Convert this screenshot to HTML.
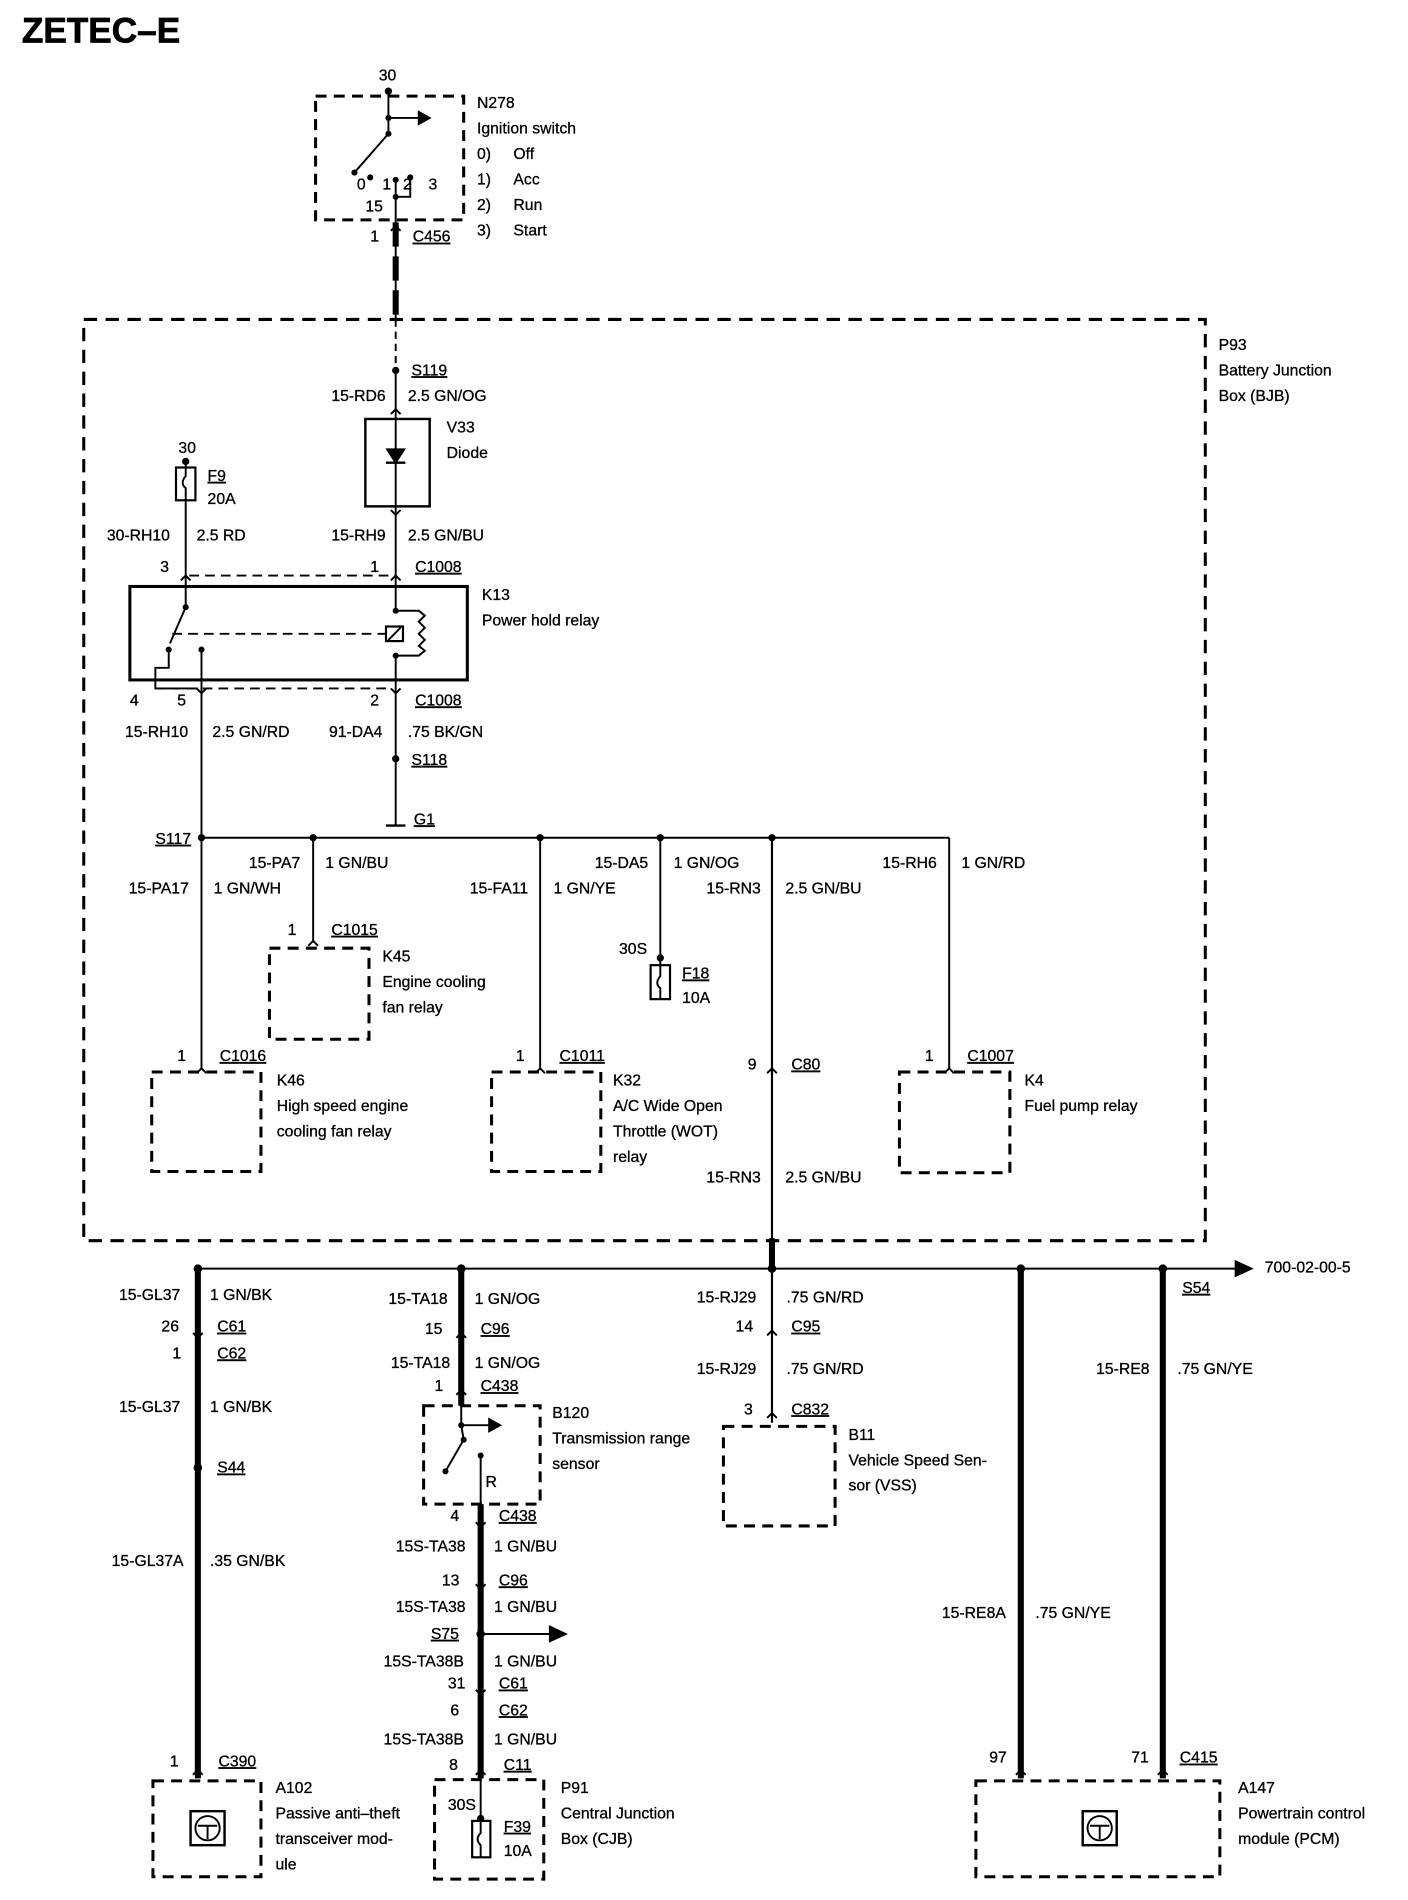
<!DOCTYPE html>
<html><head><meta charset="utf-8"><style>
html,body{margin:0;padding:0;background:#fff;}
svg{display:block}
text{font-family:"Liberation Sans",sans-serif;font-size:13px;fill:#000;stroke:#000;stroke-width:0.25px;}
.u{text-decoration:underline}
</style></head><body>
<svg width="1408" height="1900" viewBox="0 0 1160 1565" xmlns="http://www.w3.org/2000/svg">
<g stroke="#000" fill="none" stroke-width="1.6">
<rect x="260" y="79" width="122" height="102" stroke-width="2.5" stroke-dasharray="9,6"/>
<line x1="320" y1="72" x2="320" y2="110"/>
<line x1="320" y1="97" x2="345" y2="97"/>
<polygon points="345,92 354,97 345,102" fill="#000"/>
<line x1="320" y1="110" x2="292" y2="142"/>
<line x1="326" y1="148" x2="326" y2="263"/>
<polyline points="326,162 338,162 338,146"/>
<line x1="326" y1="183" x2="326" y2="263" stroke-width="5" stroke-dasharray="20,8"/>
<line x1="326" y1="263" x2="326" y2="305" stroke-dasharray="6,4"/>
<rect x="69" y="263" width="924" height="759" stroke-width="2.5" stroke-dasharray="11,7"/>
<line x1="326" y1="305" x2="326" y2="478"/>
<rect x="301" y="345" width="53" height="72" stroke-width="2"/>
<polygon points="319,370 333,370 326,381" fill="#000"/>
<line x1="318" y1="381" x2="334" y2="381" stroke-width="2"/>
<rect x="145" y="385" width="16" height="27" stroke-width="1.8"/>
<path d="M153,380 V392 Q148,398 153,402 V412"/>
<line x1="153" y1="412" x2="153" y2="500"/>
<line x1="156" y1="474" x2="322" y2="474" stroke-dasharray="8,5"/>
<rect x="107" y="483" width="278" height="77" stroke-width="2.5"/>
<line x1="153" y1="500" x2="140" y2="530"/>
<line x1="142" y1="522" x2="318" y2="522" stroke-dasharray="8,5"/>
<rect x="318" y="516" width="14" height="12" stroke-width="1.8"/>
<line x1="320" y1="527" x2="330" y2="517"/>
<line x1="326" y1="478" x2="326" y2="503"/>
<line x1="326" y1="540" x2="326" y2="680"/>
<polyline points="326,503 345,503 350,507 345,512 350,517 345,522 350,527 345,532 350,536 345,540 326,540"/>
<polyline points="139,535 139,550 128,550 128,567 163,567" />
<line x1="128" y1="567" x2="322" y2="567" stroke-dasharray="8,5"/>
<line x1="166" y1="535" x2="166" y2="690"/>
<line x1="318" y1="680" x2="334" y2="680" stroke-width="2"/>
<line x1="166" y1="690" x2="782" y2="690"/>
<line x1="166" y1="690" x2="166" y2="880"/>
<line x1="258" y1="690" x2="258" y2="775"/>
<line x1="445" y1="690" x2="445" y2="880"/>
<line x1="544" y1="690" x2="544" y2="795"/>
<line x1="782" y1="690" x2="782" y2="880"/>
<line x1="636" y1="690" x2="636" y2="1045" stroke-width="1.8"/>
<rect x="222" y="781" width="82" height="75" stroke-width="2.5" stroke-dasharray="9,6"/>
<rect x="536" y="795" width="16" height="28" stroke-width="1.8"/>
<path d="M544,795 V804 Q539,810 544,814 V823"/>
<rect x="125" y="883" width="90" height="82" stroke-width="2.5" stroke-dasharray="9,6"/>
<rect x="405" y="883" width="90" height="82" stroke-width="2.5" stroke-dasharray="9,6"/>
<rect x="741" y="883" width="91" height="83" stroke-width="2.5" stroke-dasharray="9,6"/>
<line x1="636" y1="1020" x2="636" y2="1045" stroke-width="5"/>
<line x1="163" y1="1045" x2="1020" y2="1045"/>
<polygon points="1018,1039 1031,1045 1018,1051" fill="#000"/>
<line x1="163" y1="1045" x2="163" y2="1465" stroke-width="5"/>
<line x1="380" y1="1045" x2="380" y2="1158" stroke-width="5"/>
<line x1="841" y1="1045" x2="841" y2="1465" stroke-width="5"/>
<line x1="958" y1="1045" x2="958" y2="1465" stroke-width="5"/>
<line x1="636" y1="1045" x2="636" y2="1172" stroke-width="1.8"/>
<rect x="349" y="1158" width="96" height="81" stroke-width="2.5" stroke-dasharray="9,6"/>
<line x1="380" y1="1158" x2="380" y2="1174"/>
<line x1="380" y1="1174" x2="405" y2="1174"/>
<polygon points="403,1169 412,1174 403,1179" fill="#000"/>
<line x1="380" y1="1174" x2="382" y2="1186"/>
<line x1="382" y1="1186" x2="367" y2="1212"/>
<line x1="396" y1="1199" x2="396" y2="1239"/>
<line x1="396" y1="1239" x2="396" y2="1465" stroke-width="5"/>
<line x1="396" y1="1346" x2="455" y2="1346"/>
<polygon points="453,1340 466,1346 453,1352" fill="#000"/>
<rect x="596" y="1175" width="92" height="82" stroke-width="2.5" stroke-dasharray="9,6"/>
<rect x="126" y="1467" width="89" height="79" stroke-width="2.5" stroke-dasharray="9,6"/>
<rect x="358" y="1466" width="90" height="82" stroke-width="2.5" stroke-dasharray="9,6"/>
<line x1="396" y1="1466" x2="396" y2="1498"/>
<rect x="389" y="1500" width="15" height="30" stroke-width="1.8"/>
<path d="M396,1500 V1510 Q391,1515 396,1520 V1530"/>
<rect x="804" y="1467" width="201" height="79" stroke-width="2.5" stroke-dasharray="9,6"/>
<rect x="157" y="1492" width="28" height="28" stroke-width="2"/>
<circle cx="171" cy="1506" r="10"/>
<path d="M163,1504 L179,1504 M171,1504 L171,1515"/>
<rect x="892" y="1492" width="28" height="28" stroke-width="2"/>
<circle cx="906" cy="1506" r="10"/>
<path d="M898,1504 L914,1504 M906,1504 L906,1515"/>
<g stroke-width="1.6">
<polyline points="322,190 326,186 330,190"/>
<polyline points="322,341 326,337 330,341"/>
<polyline points="322,420 326,424 330,420"/>
<polyline points="149,478 153,474 157,478"/>
<polyline points="322,478 326,474 330,478"/>
<polyline points="162,567 166,571 170,567"/>
<polyline points="322,567 326,571 330,567"/>
<polyline points="254,779 258,775 262,779"/>
<polyline points="162,884 166,880 170,884"/>
<polyline points="441,884 445,880 449,884"/>
<polyline points="778,884 782,880 786,884"/>
<polyline points="632,884 636,880 640,884"/>
<polyline points="159,1098 163,1102 167,1098"/>
<polyline points="376,1102 380,1098 384,1102"/>
<polyline points="376,1149 380,1145 384,1149"/>
<polyline points="392,1254 396,1258 400,1254"/>
<polyline points="392,1305 396,1309 400,1305"/>
<polyline points="392,1392 396,1396 400,1392"/>
<polyline points="392,1462 396,1458 400,1462"/>
<polyline points="159,1462 163,1458 167,1462"/>
<polyline points="632,1100 636,1096 640,1100"/>
<polyline points="632,1168 636,1164 640,1168"/>
<polyline points="837,1462 841,1458 845,1462"/>
<polyline points="954,1462 958,1458 962,1462"/>
</g>
</g>
<g fill="#000">
<circle cx="320" cy="75" r="3"/><circle cx="320" cy="97" r="2.5"/><circle cx="320" cy="110" r="2.5"/>
<circle cx="292" cy="142" r="2.5"/><circle cx="305" cy="146" r="2.5"/><circle cx="326" cy="148" r="2.5"/><circle cx="338" cy="146" r="2.5"/><circle cx="326" cy="162" r="2.5"/>
<circle cx="326" cy="305" r="3"/><circle cx="153" cy="380" r="3"/>
<circle cx="153" cy="500" r="2.5"/><circle cx="139" cy="535" r="2.5"/><circle cx="166" cy="535" r="2.5"/>
<circle cx="326" cy="503" r="2.5"/><circle cx="326" cy="540" r="2.5"/>
<circle cx="326" cy="625" r="3"/>
<circle cx="166" cy="690" r="3"/><circle cx="258" cy="690" r="3"/><circle cx="445" cy="690" r="3"/><circle cx="544" cy="690" r="3"/><circle cx="636" cy="690" r="3"/>
<circle cx="163" cy="1045" r="3.5"/><circle cx="380" cy="1045" r="3.5"/><circle cx="636" cy="1045" r="3.5"/><circle cx="841" cy="1045" r="3.5"/><circle cx="958" cy="1045" r="3.5"/>
<circle cx="163" cy="1209" r="3.5"/><circle cx="396" cy="1346" r="3.5"/>
<circle cx="380" cy="1174" r="2.5"/><circle cx="382" cy="1186" r="2.5"/><circle cx="367" cy="1212" r="2.5"/><circle cx="396" cy="1199" r="2.5"/>
<circle cx="396" cy="1498" r="3"/><circle cx="544" cy="789" r="3"/>
</g>
<text x="18" y="35" style="font-size:29px;font-weight:bold;stroke-width:0.6px">ZETEC–E</text>
<text x="312" y="66">30</text>
<text x="294" y="156">0</text><text x="315" y="156">1</text><text x="332" y="156">2</text><text x="353" y="156">3</text>
<text x="301" y="174">15</text>
<text x="305" y="199">1</text><text x="340" y="199" class="u">C456</text>
<text x="393" y="89">N278</text><text x="393" y="110">Ignition switch</text>
<text x="393" y="131">0)</text><text x="423" y="131">Off</text>
<text x="393" y="152">1)</text><text x="423" y="152">Acc</text>
<text x="393" y="173">2)</text><text x="423" y="173">Run</text>
<text x="393" y="194">3)</text><text x="423" y="194">Start</text>
<text x="1004" y="288">P93</text><text x="1004" y="309">Battery Junction</text><text x="1004" y="330">Box (BJB)</text>
<text x="339" y="309" class="u">S119</text>
<text x="273" y="330">15-RD6</text><text x="336" y="330">2.5 GN/OG</text>
<text x="368" y="356">V33</text><text x="368" y="377">Diode</text>
<text x="147" y="373">30</text>
<text x="171" y="396" class="u">F9</text><text x="171" y="415">20A</text>
<text x="88" y="445">30-RH10</text><text x="162" y="445">2.5 RD</text>
<text x="273" y="445">15-RH9</text><text x="336" y="445">2.5 GN/BU</text>
<text x="132" y="471">3</text><text x="305" y="471">1</text><text x="342" y="471" class="u">C1008</text>
<text x="397" y="494">K13</text><text x="397" y="515">Power hold relay</text>
<text x="107" y="581">4</text><text x="146" y="581">5</text><text x="305" y="581">2</text><text x="342" y="581" class="u">C1008</text>
<text x="103" y="607">15-RH10</text><text x="175" y="607">2.5 GN/RD</text>
<text x="271" y="607">91-DA4</text><text x="336" y="607">.75 BK/GN</text>
<text x="339" y="630" class="u">S118</text>
<text x="341" y="679" class="u">G1</text>
<text x="128" y="695" class="u">S117</text>
<text x="205" y="715">15-PA7</text><text x="268" y="715">1 GN/BU</text>
<text x="490" y="715">15-DA5</text><text x="555" y="715">1 GN/OG</text>
<text x="727" y="715">15-RH6</text><text x="792" y="715">1 GN/RD</text>
<text x="106" y="736">15-PA17</text><text x="176" y="736">1 GN/WH</text>
<text x="387" y="736">15-FA11</text><text x="456" y="736">1 GN/YE</text>
<text x="582" y="736">15-RN3</text><text x="647" y="736">2.5 GN/BU</text>
<text x="237" y="770">1</text><text x="273" y="770" class="u">C1015</text>
<text x="315" y="792">K45</text><text x="315" y="813">Engine cooling</text><text x="315" y="834">fan relay</text>
<text x="510" y="786">30S</text>
<text x="562" y="806" class="u">F18</text><text x="562" y="826">10A</text>
<text x="146" y="874">1</text><text x="181" y="874" class="u">C1016</text>
<text x="228" y="894">K46</text><text x="228" y="915">High speed engine</text><text x="228" y="936">cooling fan relay</text>
<text x="425" y="874">1</text><text x="461" y="874" class="u">C1011</text>
<text x="505" y="894">K32</text><text x="505" y="915">A/C Wide Open</text><text x="505" y="936">Throttle (WOT)</text><text x="505" y="957">relay</text>
<text x="616" y="881">9</text><text x="652" y="881" class="u">C80</text>
<text x="762" y="874">1</text><text x="797" y="874" class="u">C1007</text>
<text x="844" y="894">K4</text><text x="844" y="915">Fuel pump relay</text>
<text x="582" y="974">15-RN3</text><text x="647" y="974">2.5 GN/BU</text>
<text x="1042" y="1048">700-02-00-5</text>
<text x="974" y="1065" class="u">S54</text>
<text x="98" y="1071">15-GL37</text><text x="173" y="1071">1 GN/BK</text>
<text x="133" y="1097">26</text><text x="179" y="1097" class="u">C61</text>
<text x="142" y="1119">1</text><text x="179" y="1119" class="u">C62</text>
<text x="98" y="1163">15-GL37</text><text x="173" y="1163">1 GN/BK</text>
<text x="179" y="1213" class="u">S44</text>
<text x="92" y="1290">15-GL37A</text><text x="173" y="1290">.35 GN/BK</text>
<text x="140" y="1455">1</text><text x="180" y="1455" class="u">C390</text>
<text x="227" y="1477">A102</text><text x="227" y="1498">Passive anti–theft</text><text x="227" y="1519">transceiver mod-</text><text x="227" y="1540">ule</text>
<text x="320" y="1074">15-TA18</text><text x="391" y="1074">1 GN/OG</text>
<text x="350" y="1099">15</text><text x="396" y="1099" class="u">C96</text>
<text x="322" y="1127">15-TA18</text><text x="391" y="1127">1 GN/OG</text>
<text x="358" y="1146">1</text><text x="396" y="1146" class="u">C438</text>
<text x="455" y="1168">B120</text><text x="455" y="1189">Transmission range</text><text x="455" y="1210">sensor</text>
<text x="400" y="1225">R</text>
<text x="371" y="1253">4</text><text x="411" y="1253" class="u">C438</text>
<text x="326" y="1278">15S-TA38</text><text x="407" y="1278">1 GN/BU</text>
<text x="364" y="1306">13</text><text x="411" y="1306" class="u">C96</text>
<text x="326" y="1328">15S-TA38</text><text x="407" y="1328">1 GN/BU</text>
<text x="355" y="1350" class="u">S75</text>
<text x="316" y="1373">15S-TA38B</text><text x="407" y="1373">1 GN/BU</text>
<text x="369" y="1391">31</text><text x="411" y="1391" class="u">C61</text>
<text x="371" y="1413">6</text><text x="411" y="1413" class="u">C62</text>
<text x="316" y="1437">15S-TA38B</text><text x="407" y="1437">1 GN/BU</text>
<text x="370" y="1458">8</text><text x="415" y="1458" class="u">C11</text>
<text x="369" y="1491">30S</text>
<text x="415" y="1509" class="u">F39</text><text x="415" y="1529">10A</text>
<text x="462" y="1477">P91</text><text x="462" y="1498">Central Junction</text><text x="462" y="1519">Box (CJB)</text>
<text x="574" y="1073">15-RJ29</text><text x="648" y="1073">.75 GN/RD</text>
<text x="606" y="1097">14</text><text x="652" y="1097" class="u">C95</text>
<text x="574" y="1132">15-RJ29</text><text x="648" y="1132">.75 GN/RD</text>
<text x="613" y="1165">3</text><text x="652" y="1165" class="u">C832</text>
<text x="699" y="1186">B11</text><text x="699" y="1207">Vehicle Speed Sen-</text><text x="699" y="1228">sor (VSS)</text>
<text x="903" y="1132">15-RE8</text><text x="970" y="1132">.75 GN/YE</text>
<text x="776" y="1333">15-RE8A</text><text x="853" y="1333">.75 GN/YE</text>
<text x="815" y="1452">97</text><text x="932" y="1452">71</text><text x="972" y="1452" class="u">C415</text>
<text x="1020" y="1477">A147</text><text x="1020" y="1498">Powertrain control</text><text x="1020" y="1519">module (PCM)</text>
</svg>
</body></html>
